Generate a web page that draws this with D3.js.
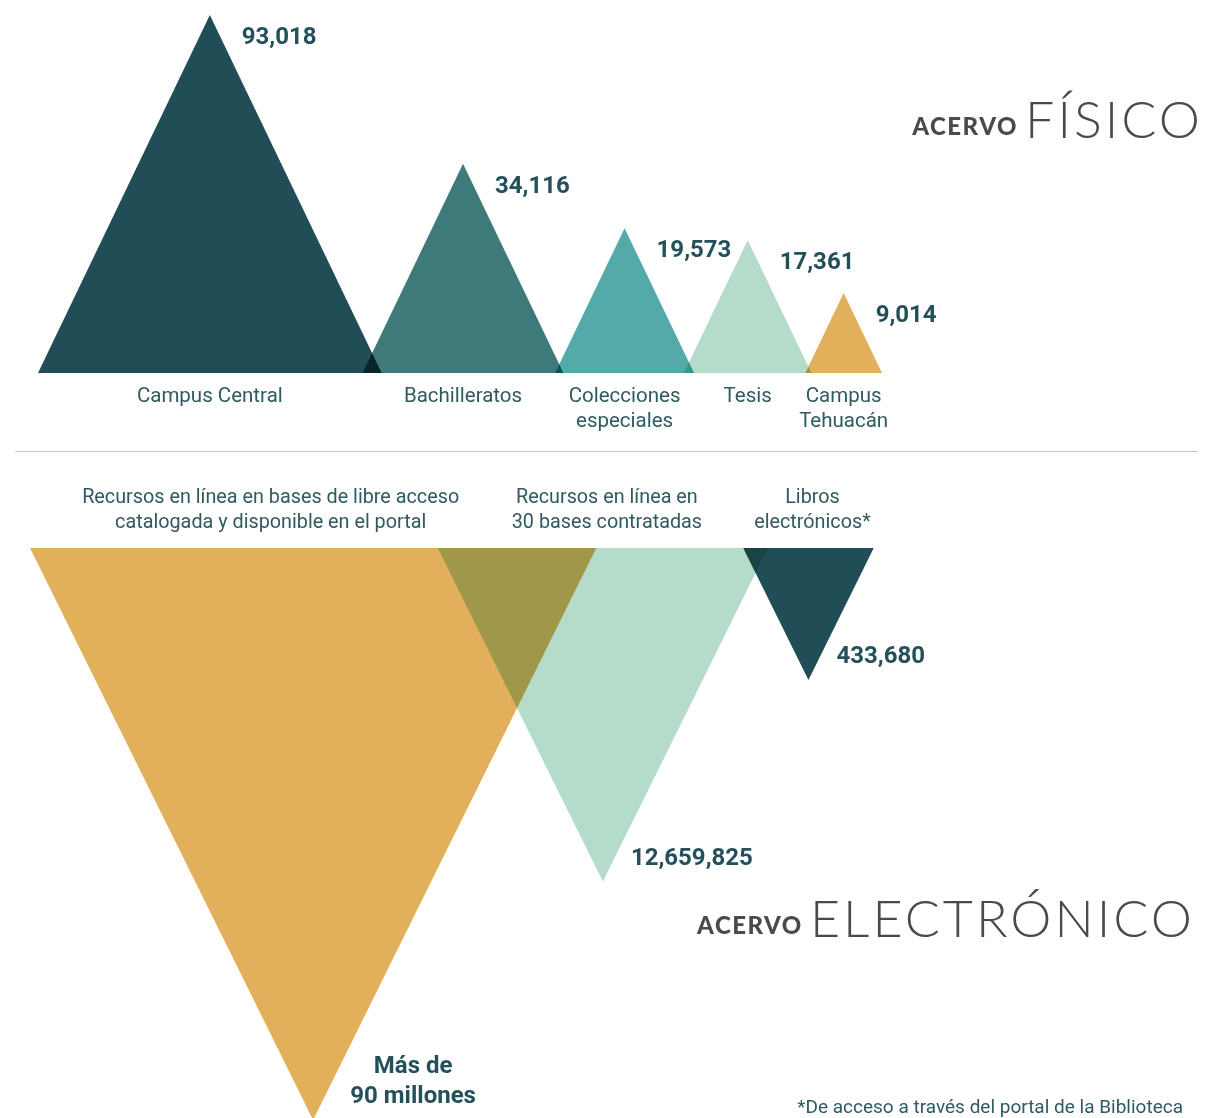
<!DOCTYPE html>
<html>
<head>
<meta charset="utf-8">
<script src="https://cdn.jsdelivr.net/npm/d3@7"></script>
<style>
    body { margin: 0; background: #fff; }
    svg { display: block; }
    .tri { mix-blend-mode: multiply; }
</style>
</head>
<body>
<script>
// acervo físico
const physLabels = [["Campus Central"], ["Bachilleratos"], ["Colecciones", "especiales"], ["Tesis"], ["Campus", "Tehuacán"]];
const physValues = [93018, 34116, 19573, 17361, 9014];
const physColors = ["#214e56", "#3e7a7a", "#54aaa9", "#b5dccb", "#e2b05a"];

// acervo electrónico
const elecLabels = [
    ["Recursos en línea en bases de libre acceso", "catalogada y disponible en el portal"],
    ["Recursos en línea en", "30 bases contratadas"],
    ["Libros", "electrónicos*"]
];
const elecValues = [90000000, 12659825, 433680];
const elecValueText = [["Más de", "90 millones"], ["12,659,825"], ["433,680"]];
const elecColors = ["#e2b05a", "#b5dccb", "#214e56"];

const width = 1229;
const height = 1118;
const textColor = "#2f5a60";
const valueColor = "#23505a";
const labelFont = "Roboto, 'Noto Sans', sans-serif";

const svg = d3.select("body")
    .append("svg")
    .attr("width", width)
    .attr("height", height);

const fmt = d3.format(",");

// heights are not linear in the original; these scales get close
const hPhys = d3.scaleSymlog().constant(18000).domain([0, d3.max(physValues)]).range([0, 358]);
const hElec = d3.scalePow().exponent(0.275).domain([0, d3.max(elecValues)]).range([0, 572]);

const layoutRow = (values, scale, x0, slope, overlaps) => {
    let left = x0;
    return values.map((v, i) => {
        const h = scale(v);
        const hw = h * slope;
        if (i > 0) left -= overlaps[i - 1] * Math.min(2 * hw, 2 * scale(values[i - 1]) * slope);
        const d = {value: v, h: h, hw: hw, left: left, apex: left + hw, right: left + 2 * hw, i: i};
        left = d.right;
        return d;
    });
};

const line = d3.line();

// ---- top row (pointing up) ----
const baseY = 373;
const topRow = layoutRow(physValues, hPhys, 38, 0.48, [0.095, 0.06, 0.08, 0.08]);

svg.append("g")
    .selectAll("path")
    .data(topRow)
    .enter()
    .append("path")
    .attr("class", "tri")
    .attr("d", d => line([[d.left, baseY], [d.apex, baseY - d.h], [d.right, baseY]]) + "Z")
    .attr("fill", (d, i) => physColors[i]);

svg.append("g")
    .selectAll("text")
    .data(topRow)
    .enter()
    .append("text")
    .attr("x", d => d.apex + 32)
    .attr("y", d => baseY - d.h + 29)
    .style("font", `bold 24px ${labelFont}`)
    .attr("fill", valueColor)
    .text(d => fmt(d.value));

const topLab = svg.append("g")
    .selectAll("text")
    .data(topRow)
    .enter()
    .append("text")
    .attr("text-anchor", "middle")
    .style("font", `20.5px ${labelFont}`)
    .attr("fill", textColor);

topLab.selectAll("tspan")
    .data(d => physLabels[d.i].map(t => ({t: t, x: d.apex})))
    .enter()
    .append("tspan")
    .attr("x", d => d.x)
    .attr("y", (d, j) => 402 + j * 25)
    .text(d => d.t);

// divider
svg.append("line")
    .attr("x1", 15).attr("x2", 1198)
    .attr("y1", 451.5).attr("y2", 451.5)
    .attr("stroke", "#c9c9c9")
    .attr("stroke-width", 1);

// ---- bottom row (pointing down) ----
const topY = 548;
const botRow = layoutRow(elecValues, hElec, 30, 0.495, [0.48, 0.19]);

svg.append("g")
    .selectAll("path")
    .data(botRow)
    .enter()
    .append("path")
    .attr("class", "tri")
    .attr("d", d => line([[d.left, topY], [d.apex, topY + d.h], [d.right, topY]]) + "Z")
    .attr("fill", (d, i) => elecColors[i]);

const botLab = svg.append("g")
    .selectAll("text")
    .data(botRow)
    .enter()
    .append("text")
    .attr("text-anchor", "middle")
    .style("font", `19.8px ${labelFont}`)
    .attr("fill", textColor);

botLab.selectAll("tspan")
    .data(d => elecLabels[d.i].map(t => ({t: t, x: d.i === 0 ? d.apex - 0.15 * d.hw : d.apex + 4})))
    .enter()
    .append("tspan")
    .attr("x", d => d.x)
    .attr("y", (d, j) => 503 + j * 25)
    .text(d => d.t);

const botVal = svg.append("g")
    .selectAll("text")
    .data(botRow)
    .enter()
    .append("text")
    .style("font", `bold 24px ${labelFont}`)
    .attr("fill", valueColor)
    .attr("text-anchor", d => d.i === 0 ? "middle" : "start");

botVal.selectAll("tspan")
    .data(d => elecValueText[d.i].map((t, j) => ({
        t: t,
        x: d.i === 0 ? d.apex + 100 : d.apex + 28,
        y: topY + d.h - (d.i === 0 ? 47 - j * 30 : 17)
    })))
    .enter()
    .append("tspan")
    .attr("x", d => d.x)
    .attr("y", d => d.y)
    .text(d => d.t);

// ---- section titles ----
const title = (x, y, word) => {
    const t = svg.append("text")
        .attr("x", x)
        .attr("y", y)
        .attr("text-anchor", "end")
        .attr("fill", "#4a4a4a");
    t.append("tspan")
        .attr("dy", -3)
        .style("font", "900 24px Lato, sans-serif")
        .style("letter-spacing", "1.5px")
        .text("ACERVO ");
    t.append("tspan")
        .attr("dy", 3)
        .style("font", "300 52px Lato, sans-serif")
        .style("letter-spacing", "3px")
        .text(word);
};
title(1203, 138, "FÍSICO");
title(1195, 937, "ELECTRÓNICO");

// footnote
svg.append("text")
    .attr("x", 1183)
    .attr("y", 1113)
    .attr("text-anchor", "end")
    .style("font", `19px ${labelFont}`)
    .attr("fill", textColor)
    .text("*De acceso a través del portal de la Biblioteca");
</script>
</body>
</html>
